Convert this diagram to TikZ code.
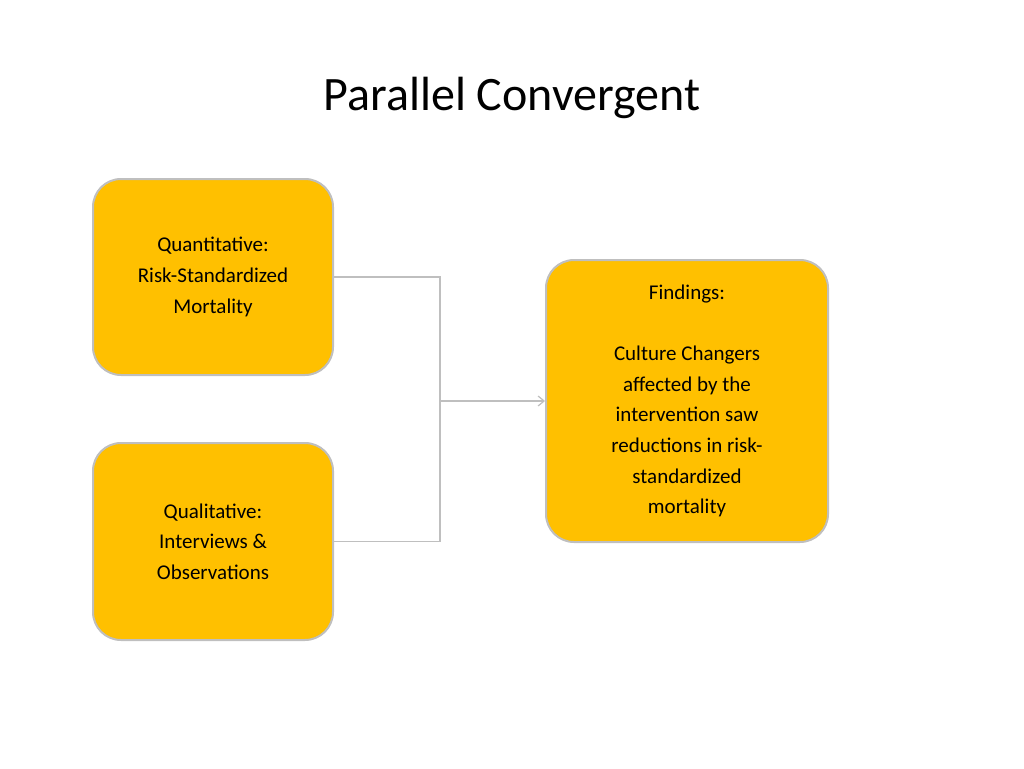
\documentclass[tikz,border=0pt]{standalone}
\usepackage{fontspec}
\setmainfont{Carlito}
\usetikzlibrary{arrows.meta}
\definecolor{boxfill}{HTML}{FFC000}
\definecolor{boxline}{HTML}{BFBFBF}
\begin{document}
\begin{tikzpicture}[x=1pt,y=-1pt,
  box/.style={draw=boxline,line width=2pt,fill=boxfill,rounded corners=28pt,align=center,font=\fontsize{21}{30.6}\selectfont,inner sep=0pt},
  conn/.style={draw=boxline,line width=1.2pt}]
\useasboundingbox (0,0) rectangle (1024,768);
\node[font=\fontsize{48}{50}\selectfont] (title) at (512,98) {Parallel Convergent};
\node[box,minimum width=240pt,minimum height=196pt] (q) at (213,277) {Quantitative:\\Risk-Standardized\\Mortality};
\node[box,minimum width=240pt,minimum height=197pt] (l) at (213,541.5) {Qualitative:\\Interviews \&\\Observations};
\node[box,minimum width=282pt,minimum height=282pt] (f) at (687,401) {Findings:\\[30.6pt]Culture Changers\\affected by the\\intervention saw\\reductions in risk-\\standardized\\mortality};
\coordinate (j) at (440,401);
\draw[conn] (q.east) -| (j) |- (l.east);
\draw[conn,-{Straight Barb[length=6pt,width=10pt]}] (j) -- (f.west);
\end{tikzpicture}
\end{document}
